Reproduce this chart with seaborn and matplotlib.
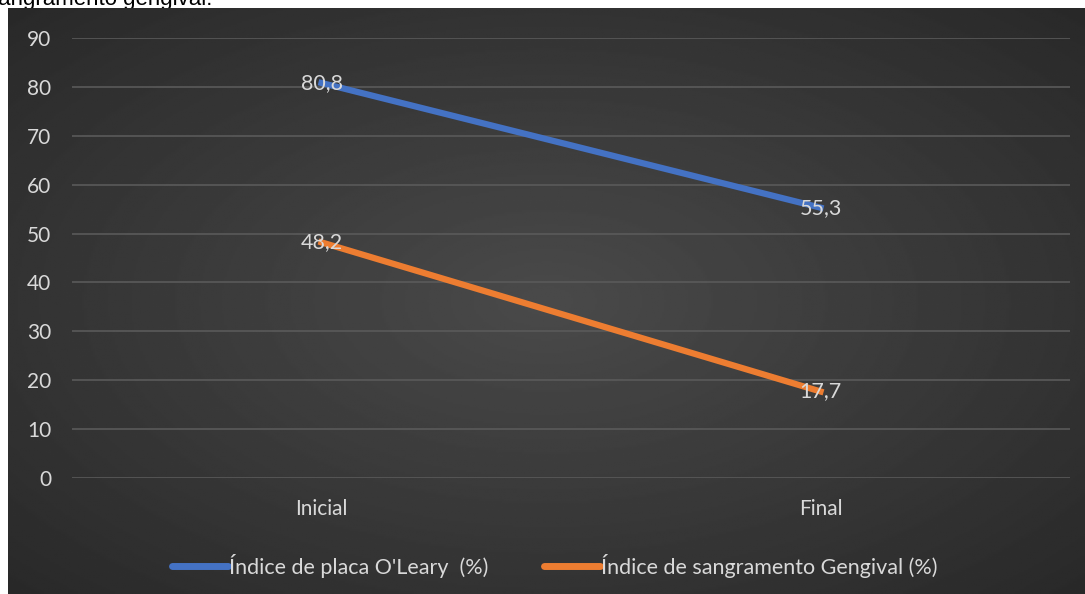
import numpy as np
import pandas as pd
import seaborn as sns
import matplotlib.pyplot as plt
from matplotlib.lines import Line2D

# dados
momentos = ['Inicial', 'Final']
placa_oleary = [80.8, 55.3]
sangramento = [48.2, 17.7]
series = ["Índice de placa O'Leary  (%)", 'Índice de sangramento Gengival (%)']
rotulos_placa = ['80,8', '55,3']
rotulos_sang = ['48,2', '17,7']
yticks = [0, 10, 20, 30, 40, 50, 60, 70, 80, 90]

cores = ['#4472C4', '#ED7D31']
texto = '#D9D9D9'

df = pd.DataFrame({
    'momento': momentos * 2,
    'valor': placa_oleary + sangramento,
    'serie': [series[0]] * 2 + [series[1]] * 2,
})

W, H = 1085, 594
fig = plt.figure(figsize=(W / 100, H / 100), dpi=100, facecolor='white')

# fundo escuro com gradiente radial
bg = fig.add_axes([8 / W, 0, 1 - 8 / W, 1 - 8 / H])
yy, xx = np.mgrid[-1:1:300j, -1:1:500j]
r = np.sqrt(xx ** 2 + yy ** 2) / np.sqrt(2)
grad = 0.29 - 0.13 * r
bg.imshow(grad, cmap='gray', vmin=0, vmax=1, aspect='auto', extent=[0, 1, 0, 1])
bg.set_axis_off()
bg.set_zorder(-1)

# texto cortado acima do gráfico
fig.text(-0.012, 1 - 5 / H, 'sangramento gengival.', fontsize=16, color='black',
         family='Liberation Sans', va='baseline', zorder=-5)

ax = fig.add_axes([72 / W, (H - 478) / H, (1070 - 72) / W, (478 - 38) / H])
ax.set_facecolor('none')

sns.lineplot(data=df, x='momento', y='valor', hue='serie', palette=cores,
             linewidth=4.5, ax=ax, legend=False, sort=False)

for i, m in enumerate(momentos):
    ax.text(i, placa_oleary[i], rotulos_placa[i], ha='center', va='center',
            color=texto, fontsize=15.5, family='Lato')
    ax.text(i, sangramento[i], rotulos_sang[i], ha='center', va='center',
            color=texto, fontsize=15.5, family='Lato')

ax.set_xlim(-0.5, 1.5)
ax.set_ylim(0, 90)
ax.set_yticks(yticks)
ax.grid(axis='y', color='#5A5A5A', linewidth=1.2)
ax.set_axisbelow(True)
for s in ax.spines.values():
    s.set_visible(False)
ax.tick_params(length=0, colors=texto, labelsize=15)
ax.tick_params(axis='y', pad=15)
ax.tick_params(axis='x', pad=15)
for lab in ax.get_xticklabels() + ax.get_yticklabels():
    lab.set_family('Lato')
ax.set_xlabel('')
ax.set_ylabel('')

handles = [Line2D([], [], color=c, linewidth=5, solid_capstyle='round') for c in cores]
leg = fig.legend(handles, series, loc='center', bbox_to_anchor=(555 / W, (H - 566) / H),
                 ncol=2, frameon=False, handlelength=2.6, handletextpad=0.05,
                 columnspacing=2.6, prop={'family': 'Lato', 'size': 15.5})
for t in leg.get_texts():
    t.set_color(texto)

fig.savefig('out.png', dpi=100, facecolor='white')
